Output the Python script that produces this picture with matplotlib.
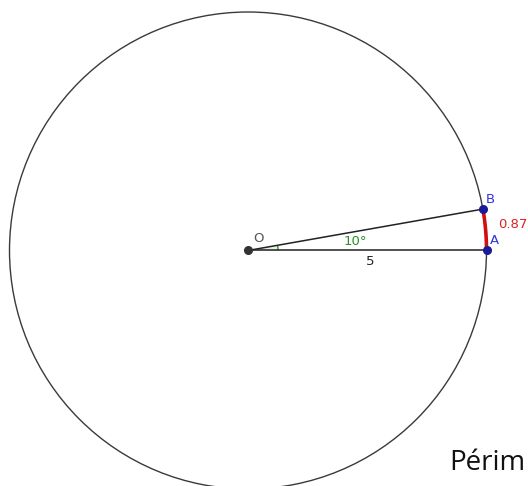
import numpy as np
import matplotlib
matplotlib.use("Agg")
import matplotlib.pyplot as plt
from matplotlib.patches import Circle, Arc, Wedge

# data
radius = 5
angle_deg = 10
arc_length = 0.87
point_labels = ["O", "A", "B"]
radius_label = "5"
angle_label = "10°"
arc_label = "0.87"
caption = "Périm"

fig = plt.figure(figsize=(5.28, 4.86), dpi=100)
ax = fig.add_axes([0, 0, 1, 1])
scale = 238.5 / radius  # px per unit
cx, cy = 248.0, 250.5
ax.set_xlim(-cx / scale, (528 - cx) / scale)
ax.set_ylim(-(486 - cy) / scale, cy / scale)
ax.set_aspect("equal")
ax.axis("off")

# circle
ax.add_patch(Circle((0, 0), radius, fill=False, ec="#3a3a3a", lw=1.0, zorder=1))

th = np.deg2rad(angle_deg)
A = (radius, 0.0)
B = (radius * np.cos(th), radius * np.sin(th))

# angle sector
ax.add_patch(Wedge((0, 0), 0.63, 0, angle_deg, fc="#e6f2e6", ec="none", zorder=1.5))
ax.add_patch(Arc((0, 0), 1.26, 1.26, theta1=0, theta2=angle_deg, ec="#2e8b2e", lw=1.0, zorder=2))

# radii
ax.plot([0, A[0]], [0, A[1]], color="#222222", lw=1.1, zorder=2)
ax.plot([0, B[0]], [0, B[1]], color="#222222", lw=1.1, zorder=2)

# arc AB
t = np.linspace(0, th, 50)
ax.plot(radius * np.cos(t), radius * np.sin(t), color="#d01010", lw=2.6, zorder=3, solid_capstyle="butt")

# points
ax.plot([0], [0], "o", color="#333333", ms=5.5, zorder=4)
ax.plot([A[0], B[0]], [A[1], B[1]], "o", color="#1a1a99", ms=5.5, zorder=4)

# labels
fs = 9.5
ax.text(0.12, 0.12, point_labels[0], color="#555555", fontsize=fs, ha="left", va="bottom", zorder=5)
ax.text(A[0] + 0.08, A[1] + 0.08, point_labels[1], color="#3333dd", fontsize=fs, ha="left", va="bottom", zorder=5)
ax.text(B[0] + 0.07, B[1] + 0.07, point_labels[2], color="#3333dd", fontsize=fs, ha="left", va="bottom", zorder=5)
ax.text(2.25, 0.06, angle_label, color="#2e8b2e", fontsize=fs, ha="center", va="bottom", zorder=5)
ax.text(2.56, -0.1, radius_label, color="#222222", fontsize=fs, ha="center", va="top", zorder=5)
ax.text(5.25, 0.55, arc_label, color="#dd2222", fontsize=fs, ha="left", va="center", zorder=5)

# caption
fig.text(449 / 528, 1 - 463 / 486, caption, fontsize=20, color="#111111",
         family="Open Sans", ha="left", va="center")

fig.savefig("out.png", dpi=100)
